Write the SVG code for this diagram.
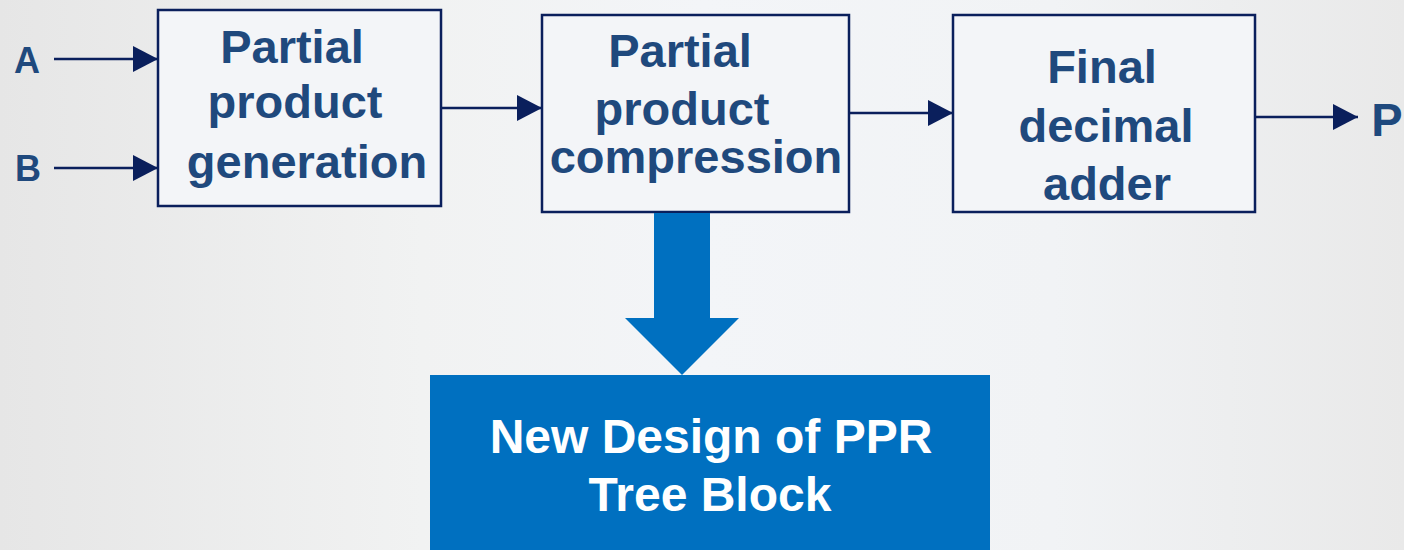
<svg xmlns="http://www.w3.org/2000/svg" width="1404" height="550" viewBox="0 0 1404 550">
  <defs>
    <linearGradient id="bg" x1="0" y1="0" x2="1" y2="0">
      <stop offset="0" stop-color="#e6e6e6"/>
      <stop offset="0.3" stop-color="#f1f2f2"/>
      <stop offset="0.5" stop-color="#f3f5f8"/>
      <stop offset="0.75" stop-color="#f1f3f5"/>
      <stop offset="1" stop-color="#e9e9e9"/>
    </linearGradient>
    <marker id="ah" markerUnits="userSpaceOnUse" markerWidth="26" markerHeight="26" viewBox="0 0 26 26" refX="25" refY="13" orient="auto">
      <path d="M0,0 L25,13 L0,26 Z" fill="#0a1f5c"/>
    </marker>
  </defs>
  <style>
    .box { fill: #f3f5f8; stroke: #0a1f5c; stroke-width: 2.5; }
    .lbl { font-family: "Liberation Sans", Arial, sans-serif; font-weight: bold; font-size: 47px; fill: #1f497d; text-anchor: middle; }
    .io { font-family: "Liberation Sans", Arial, sans-serif; font-weight: bold; fill: #1f497d; text-anchor: middle; }
    .con { stroke: #0a1f5c; stroke-width: 2.5; fill: none; marker-end: url(#ah); }
    .wt { font-family: "Liberation Sans", Arial, sans-serif; font-weight: bold; font-size: 48px; fill: #ffffff; text-anchor: middle; }
  </style>
  <rect x="0" y="0" width="1404" height="550" fill="url(#bg)"/>

  <g id="input-A"><text class="io" x="27" y="73" font-size="36">A</text></g>
  <g id="input-B"><text class="io" x="28" y="181" font-size="36">B</text></g>
  <g id="output-P"><text class="io" x="1387" y="136" font-size="47">P</text></g>

  <g id="ppg">
    <rect class="box" x="158" y="10" width="283" height="196"/>
    <text class="lbl" x="292" y="63">Partial</text>
    <text class="lbl" x="295" y="118">product</text>
    <text class="lbl" x="307" y="178">generation</text>
  </g>

  <g id="ppc">
    <rect class="box" x="542" y="15" width="307" height="197"/>
    <text class="lbl" x="680" y="67">Partial</text>
    <text class="lbl" x="682" y="125">product</text>
    <text class="lbl" x="696" y="173">compression</text>
  </g>

  <g id="fda">
    <rect class="box" x="953" y="15" width="302" height="197"/>
    <text class="lbl" x="1102" y="83">Final</text>
    <text class="lbl" x="1106" y="142">decimal</text>
    <text class="lbl" x="1107" y="200">adder</text>
  </g>

  <g id="ppr">
    <rect x="430" y="375" width="560" height="175" fill="#0070c0"/>
    <text class="wt" x="711" y="453">New Design of PPR</text>
    <text class="wt" x="710" y="511">Tree Block</text>
  </g>

  <g id="connectors">
    <line class="con" x1="54" y1="59" x2="158" y2="59"/>
    <line class="con" x1="54" y1="168" x2="158" y2="168"/>
    <line class="con" x1="441" y1="108" x2="542" y2="108"/>
    <line class="con" x1="849" y1="113" x2="953" y2="113"/>
    <line class="con" x1="1255" y1="117" x2="1358" y2="117"/>
    <path d="M654,213 L710,213 L710,318 L739,318 L682,375 L625,318 L654,318 Z" fill="#0070c0"/>
  </g>
</svg>
